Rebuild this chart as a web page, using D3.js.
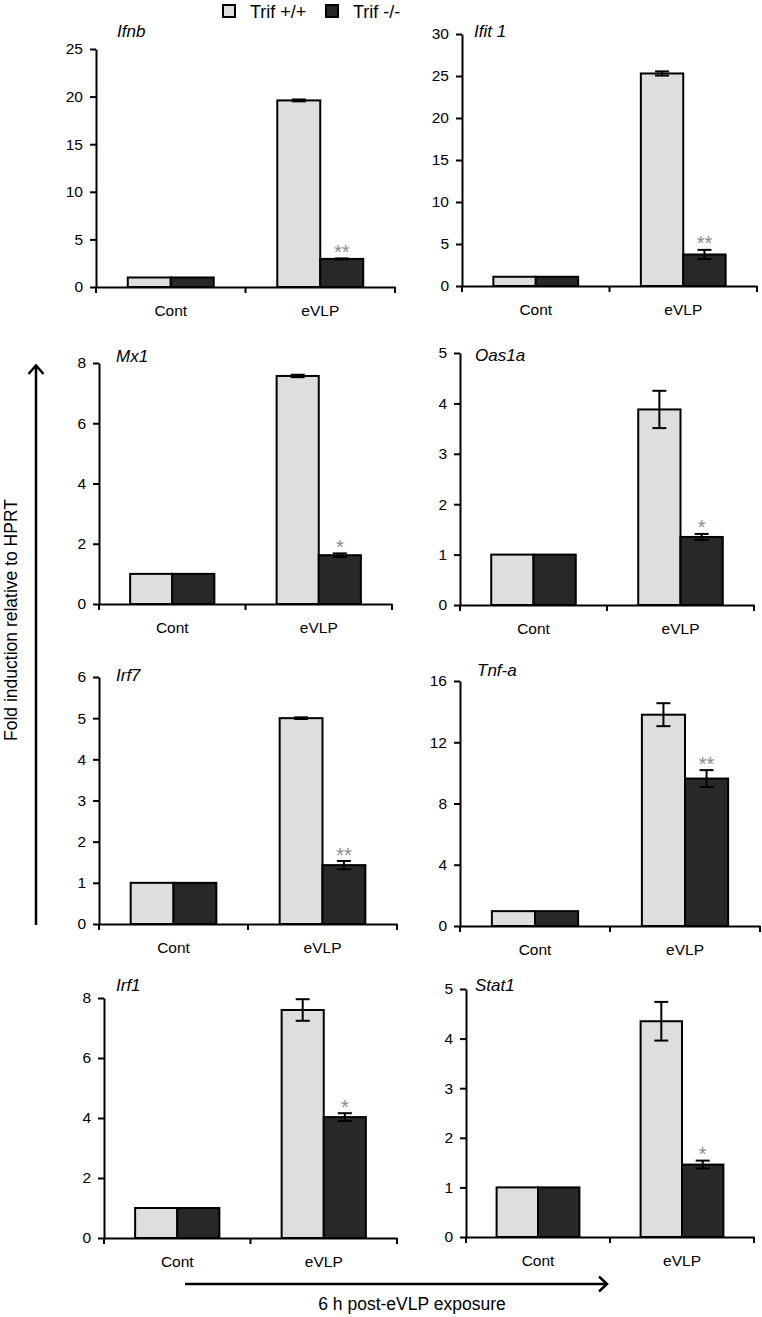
<!DOCTYPE html>
<html>
<head>
<meta charset="utf-8">
<script src="https://cdn.jsdelivr.net/npm/d3@7"></script>
<style>
  html, body { margin: 0; padding: 0; background: #fff; }
  svg { display: block; font-family: "Liberation Sans", Arial, Helvetica, sans-serif; }
</style>
</head>
<body>
<svg id="chart" width="762" height="1317"></svg>
<script>
// ---- data ----
const genes = ["Ifnb", "Ifit 1", "Mx1", "Oas1a", "Irf7", "Tnf-a", "Irf1", "Stat1"];
const categories = ["Cont", "eVLP"];
const seriesNames = ["Trif +/+", "Trif -/-"];
const yMaxes = [25, 30, 8, 5, 6, 16, 8, 5];
const yTickSteps = [5, 5, 2, 1, 1, 4, 2, 1];
const wtValues = [[1, 19.6], [1.1, 25.3], [1, 7.57], [1, 3.88], [1, 5.0], [0.97, 13.8], [1, 7.6], [1, 4.35]];
const wtErrors = [[0.02, 0.1], [0.05, 0.25], [0.01, 0.04], [0.01, 0.37], [0.01, 0.02], [0.01, 0.75], [0.01, 0.36], [0.01, 0.39]];
const koValues = [[1, 2.95], [1.1, 3.75], [1, 1.62], [1, 1.35], [1, 1.43], [0.97, 9.63], [1, 4.03], [1, 1.46]];
const koErrors = [[0.02, 0.05], [0.03, 0.55], [0.01, 0.06], [0.01, 0.06], [0.01, 0.1], [0.01, 0.55], [0.01, 0.13], [0.01, 0.08]];
const significance = ["**", "**", "*", "*", "**", "**", "*", "*"];
const yAxisLabel = "Fold induction relative to HPRT";
const xAxisLabel = "6 h post-eVLP exposure";

// ---- layout (pixel geometry of each panel) ----
const layout = [
  {x0: 96,  x1: 395, yt: 49,  yb: 287,  tx: 117, ty: 37},
  {x0: 462, x1: 757, yt: 34,  yb: 286,  tx: 474, ty: 37},
  {x0: 99,  x1: 392, yt: 363, yb: 604,  tx: 116, ty: 362},
  {x0: 460, x1: 754, yt: 353, yb: 605,  tx: 475, ty: 361},
  {x0: 99,  x1: 397, yt: 677, yb: 924,  tx: 116, ty: 681},
  {x0: 460, x1: 760, yt: 681, yb: 926,  tx: 477, ty: 676},
  {x0: 104, x1: 397, yt: 998, yb: 1238, tx: 116, ty: 991},
  {x0: 466, x1: 754, yt: 989, yb: 1237, tx: 475, ty: 991}
];

const colors = ["#dedede", "#282828"];
const svg = d3.select("#chart");

genes.forEach((gene, i) => {
  const L = layout[i];
  const g = svg.append("g");
  const x = d3.scaleBand().domain(categories).range([L.x0, L.x1]).paddingInner(0).paddingOuter(0);
  const y = d3.scaleLinear().domain([0, yMaxes[i]]).range([L.yb, L.yt]);
  const groupW = x.bandwidth() * 0.575;
  const xs = d3.scaleBand().domain(seriesNames).range([0, groupW]).padding(0);

  // y axis
  const ticks = d3.range(0, yMaxes[i] + yTickSteps[i] / 2, yTickSteps[i]);
  const ya = g.append("g").attr("transform", `translate(${L.x0},0)`)
    .call(d3.axisLeft(y).tickValues(ticks).tickFormat(d3.format("d")).tickSize(6).tickSizeOuter(0).tickPadding(7));
  ya.select(".domain").attr("stroke", "#000").attr("stroke-width", 2);
  ya.selectAll(".tick line").attr("stroke", "#000").attr("stroke-width", 2);
  ya.selectAll(".tick text").attr("font-size", 15.5).attr("fill", "#000")
    .attr("font-family", "'Liberation Sans', Arial, sans-serif");

  // x axis
  const xa = g.append("g").attr("transform", `translate(0,${L.yb})`)
    .call(d3.axisBottom(x).tickSize(0).tickSizeOuter(0).tickPadding(18));
  xa.select(".domain").attr("stroke", "#000").attr("stroke-width", 2);
  xa.selectAll(".tick text").attr("font-size", 15.5).attr("fill", "#000")
    .attr("font-family", "'Liberation Sans', Arial, sans-serif");
  const bounds = [L.x0, L.x0 + x.step(), L.x1];
  g.selectAll("line.xt").data(bounds).join("line").attr("class", "xt")
    .attr("x1", d => d).attr("x2", d => d).attr("y1", L.yb).attr("y2", L.yb + 6)
    .attr("stroke", "#000").attr("stroke-width", 2);

  // bars
  const rows = [];
  categories.forEach((c, ci) => {
    rows.push({cat: c, s: seriesNames[0], v: wtValues[i][ci], e: wtErrors[i][ci], k: 0});
    rows.push({cat: c, s: seriesNames[1], v: koValues[i][ci], e: koErrors[i][ci], k: 1});
  });
  const bx = d => x(d.cat) + (x.bandwidth() - groupW) / 2 + xs(d.s);
  g.selectAll("rect.bar").data(rows).join("rect").attr("class", "bar")
    .attr("x", bx).attr("width", xs.bandwidth())
    .attr("y", d => y(d.v)).attr("height", d => y(0) - y(d.v))
    .attr("fill", d => colors[d.k]).attr("stroke", "#000").attr("stroke-width", 2);

  // error bars
  const capW = 7;
  const eb = g.selectAll("g.err").data(rows.filter(d => d.cat === "eVLP")).join("g").attr("class", "err");
  eb.append("line")
    .attr("x1", d => bx(d) + xs.bandwidth() / 2).attr("x2", d => bx(d) + xs.bandwidth() / 2)
    .attr("y1", d => y(d.v + d.e)).attr("y2", d => y(d.v - d.e))
    .attr("stroke", "#000").attr("stroke-width", 2);
  eb.selectAll("line.cap").data(d => [d.v + d.e, d.v - d.e].map(val => ({d, val}))).join("line").attr("class", "cap")
    .attr("x1", o => bx(o.d) + xs.bandwidth() / 2 - capW).attr("x2", o => bx(o.d) + xs.bandwidth() / 2 + capW)
    .attr("y1", o => y(o.val)).attr("y2", o => y(o.val))
    .attr("stroke", "#000").attr("stroke-width", 2);

  // significance
  const ko = rows.find(d => d.cat === "eVLP" && d.k === 1);
  g.append("text").attr("x", bx(ko) + xs.bandwidth() / 2).attr("y", y(ko.v + ko.e) + 0.5)
    .attr("text-anchor", "middle").attr("font-size", 20).attr("fill", "#8c8c8c").text(significance[i]);

  // gene title
  g.append("text").attr("x", L.tx).attr("y", L.ty).attr("font-size", 17).attr("font-style", "italic")
    .attr("fill", "#000").text(gene);
});

// legend
const leg = svg.append("g");
const legPos = [{bx: 223, tx: 250}, {bx: 326, tx: 353}];
seriesNames.forEach((s, k) => {
  leg.append("rect").attr("x", legPos[k].bx).attr("y", 5).attr("width", 12).attr("height", 12)
    .attr("fill", colors[k]).attr("stroke", "#000").attr("stroke-width", 2);
  leg.append("text").attr("x", legPos[k].tx).attr("y", 17.5).attr("font-size", 18).attr("fill", "#000").text(s);
});

// y-axis arrow + label
const arrows = svg.append("g").attr("stroke", "#000").attr("stroke-width", 2.5).attr("fill", "none");
arrows.append("line").attr("x1", 36).attr("x2", 36).attr("y1", 925).attr("y2", 366);
arrows.append("path").attr("d", "M28.5,374 L36,365.5 L43.5,374");
arrows.append("line").attr("x1", 185).attr("x2", 606).attr("y1", 1284).attr("y2", 1284);
arrows.append("path").attr("d", "M599,1276.5 L607,1284 L599,1291.5");

svg.append("text").attr("transform", "translate(17,620) rotate(-90)").attr("text-anchor", "middle")
  .attr("font-size", 17.5).attr("fill", "#000").text(yAxisLabel);
svg.append("text").attr("x", 412).attr("y", 1310).attr("text-anchor", "middle")
  .attr("font-size", 17.5).attr("fill", "#000").text(xAxisLabel);
</script>
</body>
</html>
